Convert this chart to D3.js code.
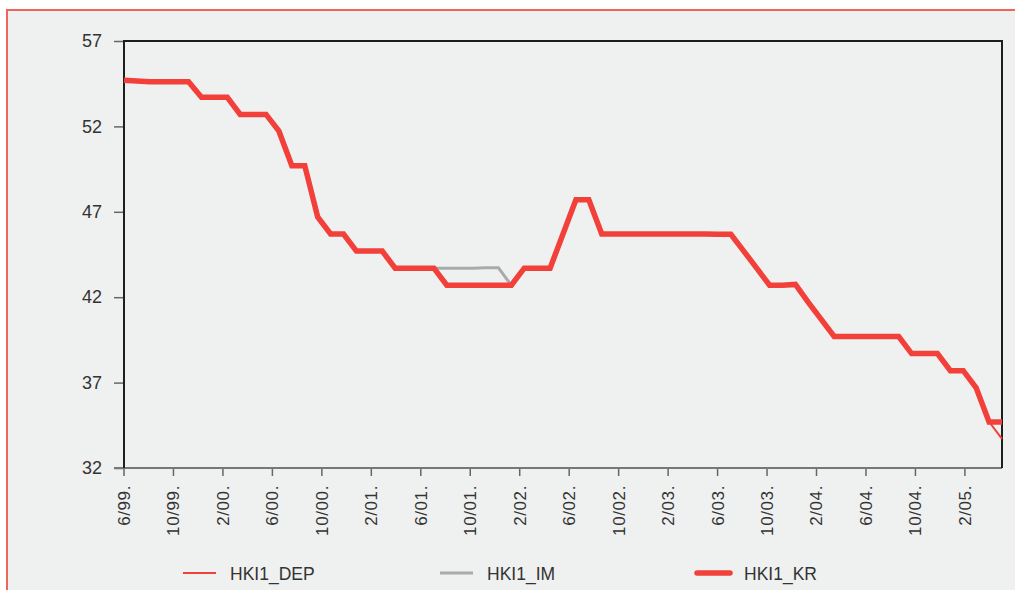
<!DOCTYPE html>
<html>
<head>
<meta charset="utf-8">
<script src="https://cdn.jsdelivr.net/npm/d3@7"></script>
<style>
  body { margin: 0; background: #ffffff; }
  svg { display: block; font-family: "Liberation Sans", Arial, sans-serif; }
</style>
</head>
<body>
<script>
// tick labels, one every 4 months on the axis (axis runs 6/99 .. 5/05)
var tickLabels = ["6/99.", "10/99.", "2/00.", "6/00.", "10/00.", "2/01.", "6/01.", "10/01.", "2/02.",
                  "6/02.", "10/02.", "2/03.", "6/03.", "10/03.", "2/04.", "6/04.", "10/04.", "2/05."];
var axisMonths = 72;
var yTicks = [32, 37, 42, 47, 52, 57];

// series values (equally spaced points across the plot)
var kr = [54.7, 54.66, 54.62, 54.62, 54.62, 54.62, 53.7, 53.7, 53.7, 52.7, 52.7, 52.7, 51.72, 49.7, 49.7,
          46.7, 45.7, 45.7, 44.7, 44.7, 44.7, 43.7, 43.7, 43.7, 43.7, 42.7, 42.7, 42.7, 42.7, 42.7,
          42.7, 43.7, 43.7, 43.7, 45.7, 47.7, 47.7, 45.7, 45.7, 45.7, 45.7, 45.7, 45.7, 45.7, 45.7,
          45.7, 45.68, 45.68, 44.7, 43.7, 42.7, 42.7, 42.75, 41.7, 40.7, 39.7, 39.7, 39.7, 39.7, 39.7,
          39.7, 38.7, 38.7, 38.7, 37.7, 37.7, 36.7, 34.7, 34.7];
var im = [54.7, 54.66, 54.62, 54.62, 54.62, 54.62, 53.7, 53.7, 53.7, 52.7, 52.7, 52.7, 51.72, 49.7, 49.7,
          46.7, 45.7, 45.7, 44.7, 44.7, 44.7, 43.7, 43.7, 43.7, 43.7, 43.7, 43.7, 43.7, 43.72, 43.72,
          42.7, 43.7, 43.7, 43.7, 45.7, 47.7, 47.7, 45.7, 45.7, 45.7, 45.7, 45.7, 45.7, 45.7, 45.7,
          45.7, 45.68, 45.68, 44.7, 43.7, 42.7, 42.7, 42.75, 41.7, 40.7, 39.7, 39.7, 39.7, 39.7, 39.7,
          39.7, 38.7, 38.7, 38.7, 37.7, 37.7, 36.7, 34.7, 34.7];
var dep = [54.7, 54.66, 54.62, 54.62, 54.62, 54.62, 53.7, 53.7, 53.7, 52.7, 52.7, 52.7, 51.72, 49.7, 49.7,
          46.7, 45.7, 45.7, 44.7, 44.7, 44.7, 43.7, 43.7, 43.7, 43.7, 42.7, 42.7, 42.7, 42.7, 42.7,
          42.7, 43.7, 43.7, 43.7, 45.7, 47.7, 47.7, 45.7, 45.7, 45.7, 45.7, 45.7, 45.7, 45.7, 45.7,
          45.7, 45.68, 45.68, 44.7, 43.7, 42.7, 42.7, 42.75, 41.7, 40.7, 39.7, 39.7, 39.7, 39.7, 39.7,
          39.7, 38.7, 38.7, 38.7, 37.7, 37.7, 36.7, 34.7, 33.7];

var seriesNames = ["HKI1_DEP", "HKI1_IM", "HKI1_KR"];

var width = 1015, height = 590;
var margin = {top: 41, right: 12, bottom: 122, left: 124};
var red = "#f2403a", grey = "#a9aaac";

var svg = d3.select("body").append("svg")
    .attr("width", width)
    .attr("height", height);

// outer panel with red border on top and left
svg.append("rect")
    .attr("x", 7).attr("y", 10)
    .attr("width", width).attr("height", height)
    .attr("fill", "#eff0f0");
svg.append("path")
    .attr("d", "M7," + height + "V10H" + width)
    .attr("fill", "none")
    .attr("stroke", "#f0645c")
    .attr("stroke-width", 2);

var x0 = margin.left, x1 = width - margin.right - 1;
var y0 = height - margin.bottom, y1 = margin.top;

// scales
var x = d3.scaleLinear().domain([0, kr.length - 1]).range([x0, x1]);
var xMonth = d3.scaleLinear().domain([0, axisMonths - 1]).range([x0, x1]);
var y = d3.scaleLinear().domain([32, 57]).range([y0, y1]);

// y axis
var yAxis = d3.axisLeft(y).tickValues(yTicks).tickSize(10).tickPadding(12).tickFormat(d3.format("d"));
var gY = svg.append("g")
    .attr("transform", "translate(" + x0 + ",0)")
    .call(yAxis);
gY.select(".domain").remove();
gY.selectAll(".tick line").attr("stroke", "#666").attr("stroke-width", 1.5);
gY.selectAll(".tick text").attr("font-size", 18).attr("fill", "#333")
    .attr("font-family", "Liberation Sans, Arial, sans-serif");

// x axis ticks and rotated labels
var gX = svg.append("g").attr("class", "xaxis");
gX.selectAll("line")
    .data(tickLabels)
  .enter().append("line")
    .attr("x1", function(d, i) { return xMonth(i * 4); })
    .attr("x2", function(d, i) { return xMonth(i * 4); })
    .attr("y1", y0)
    .attr("y2", y0 + 8)
    .attr("stroke", "#666")
    .attr("stroke-width", 1.5);
gX.selectAll("text")
    .data(tickLabels)
  .enter().append("text")
    .attr("transform", function(d, i) {
      return "translate(" + xMonth(i * 4) + "," + (y0 + 17) + ") rotate(-90)";
    })
    .attr("text-anchor", "end")
    .attr("dy", "0.35em")
    .attr("font-size", 17)
    .attr("letter-spacing", 0.6)
    .attr("fill", "#333")
    .text(function(d) { return d; });

// frame: bottom axis grey, others dark
svg.append("line")
    .attr("x1", x0 - 10).attr("x2", x1)
    .attr("y1", y0).attr("y2", y0)
    .attr("stroke", "#777").attr("stroke-width", 2);
svg.append("path")
    .attr("d", "M" + x0 + "," + y0 + "V" + y1 + "H" + x1 + "V" + y0)
    .attr("fill", "none")
    .attr("stroke", "#1e1e1e")
    .attr("stroke-width", 2);

// lines
var line = d3.line()
    .x(function(d, i) { return x(i); })
    .y(function(d) { return y(d); });

var series = [
  {name: seriesNames[0], values: dep, color: red, w: 2},
  {name: seriesNames[1], values: im, color: grey, w: 3},
  {name: seriesNames[2], values: kr, color: red, w: 5.5}
];

// draw DEP last so its thin end shows over KR
svg.append("path").datum(im).attr("d", line)
    .attr("fill", "none").attr("stroke", grey).attr("stroke-width", 3);
svg.append("path").datum(kr).attr("d", line)
    .attr("fill", "none").attr("stroke", red).attr("stroke-width", 5.5);
svg.append("path").datum(dep).attr("d", line)
    .attr("fill", "none").attr("stroke", red).attr("stroke-width", 2);

// legend
var legendX = [183, 440, 697];
var legend = svg.selectAll(".legend")
    .data(series)
  .enter().append("g")
    .attr("class", "legend")
    .attr("transform", function(d, i) { return "translate(" + legendX[i] + ",573)"; });
legend.append("line")
    .attr("x1", 0).attr("x2", 33)
    .attr("stroke", function(d) { return d.color; })
    .attr("stroke-width", function(d) { return d.w; })
    .attr("stroke-linecap", function(d) { return d.w > 3 ? "round" : "butt"; });
legend.append("text")
    .attr("x", 47)
    .attr("y", 6.5)
    .attr("font-size", 17.5)
    .attr("fill", "#333")
    .text(function(d) { return d.name; });
</script>
</body>
</html>
